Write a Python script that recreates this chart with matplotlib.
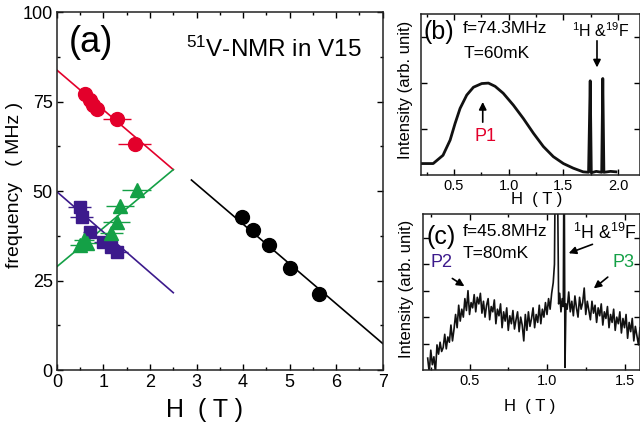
import numpy as np
import matplotlib
matplotlib.use("Agg")
import matplotlib.pyplot as plt
from matplotlib.ticker import MultipleLocator

plt.rcParams['font.family'] = ['Liberation Sans', 'DejaVu Sans']
plt.rcParams['mathtext.fontset'] = 'custom'
plt.rcParams['mathtext.rm'] = 'Liberation Sans'
plt.rcParams['mathtext.it'] = 'Liberation Sans:italic'

RED = '#e3002b'
GREEN = '#14a046'
PURPLE = '#3c1a8c'

# ---- (a) resonance frequency vs field ----
red_H = [0.60, 0.70, 0.78, 0.85, 1.29, 1.67]
red_f = [77.0, 75.5, 74.0, 73.0, 70.2, 63.3]
red_err = [0.15, 0.15, 0.15, 0.15, 0.30, 0.36]

green_H = [0.50, 0.58, 0.65, 1.17, 1.28, 1.35, 1.71]
green_f = [35.0, 36.3, 35.5, 38.2, 41.4, 45.9, 50.3]
green_err = [0.22, 0.22, 0.22, 0.25, 0.28, 0.30, 0.32]

purple_H = [0.49, 0.53, 0.71, 0.99, 1.17, 1.28]
purple_f = [45.6, 42.8, 38.6, 35.8, 34.4, 33.0]
purple_err = [0.25, 0.25, 0.15, 0.2, 0.25, 0.25]

black_H = [3.98, 4.21, 4.56, 5.00, 5.63]
black_f = [42.8, 39.1, 34.9, 28.4, 21.2]
black_err = [0.12, 0.12, 0.12, 0.12, 0.12]

# fitted lines (H start, H end), (f start, f end)
red_fit = ([0.0, 2.5], [83.8, 56.0])
green_fit = ([0.0, 2.5], [28.9, 56.0])
purple_fit = ([0.0, 2.5], [49.8, 21.6])
black_fit = ([2.89, 7.0], [53.1, 7.4])

# ---- (b) spectrum at 74.3 MHz ----
b_H = [0.20, 0.31, 0.40, 0.465, 0.51, 0.556, 0.617, 0.678, 0.754, 0.815,
       0.876, 0.95, 1.043, 1.134, 1.226, 1.317, 1.408, 1.50, 1.59, 1.68,
       1.73, 1.745, 1.755, 1.80, 1.85, 1.86, 1.87, 1.93, 1.98]
b_I = [0.25, 0.25, 0.43, 0.76, 1.12, 1.45, 1.74, 1.91, 1.99, 2.00,
       1.93, 1.78, 1.52, 1.23, 0.91, 0.62, 0.40, 0.25, 0.15, 0.07,
       0.06, 2.05, 0.05, 0.08, 0.06, 2.10, 0.06, 0.08, 0.07]

# ---- (c) spectrum at 45.8 MHz, sampled every 10 mT away from the 1H/19F lines ----
c_low_I = [0.45, -0.1, 0.75, 0.2, 0.5, -0.1, 0.95, 0.6, 1.05, 0.7,
           0.85, 1.35, 0.8, 1.25, 1.05, 1.7, 1.1, 1.55, 2.1, 1.6,
           2.45, 1.85, 2.3, 2.0, 2.7, 2.25, 3.0, 2.1, 2.55, 2.35,
           2.85, 2.2, 2.75, 2.5, 2.9, 2.15, 2.6, 2.0, 2.45, 2.7,
           1.9, 2.4, 2.2, 2.65, 1.75, 2.3, 2.05, 2.5, 1.6, 2.2,
           1.85, 2.35, 1.5, 2.05, 1.75, 2.25, 1.55, 1.9, 2.2, 1.45,
           2.0, 1.7, 1.1, 2.1, 1.5, 2.2, 1.65, 1.95, 2.35, 1.6,
           2.1, 1.8, 2.45, 1.75, 2.3, 2.0, 2.55, 2.1, 2.7, 2.3,
           2.9, 3.3]
c_low_H = 0.23 + 0.01 * np.arange(len(c_low_I))

c_mid_H = [1.048, 1.055, 1.065, 1.075, 1.082, 1.090, 1.098, 1.105, 1.110, 1.116, 1.122]
c_mid_I = [4.0, 9.0, 9.0, 2.5, 2.9, 2.2, 2.7, 2.4, 9.0, 0.1, 2.5]

c_high_I = [2.3, 2.95, 2.2, 2.6, 2.05, 2.8, 2.35, 2.0, 2.75, 2.3,
            2.55, 3.1, 2.1, 2.6, 2.25, 1.9, 2.6, 2.15, 2.45, 1.8,
            2.35, 2.05, 2.5, 1.7, 2.2, 1.95, 2.4, 1.6, 2.1, 1.8,
            2.3, 1.5, 2.0, 1.75, 2.2, 1.4, 1.95, 1.6, 2.1, 1.2,
            1.8, 1.45, 1.95, 1.1, 1.65, 1.3, 0.95, 1.6]
c_high_H = 1.13 + 0.01 * np.arange(len(c_high_I))

c_H = np.concatenate([c_low_H, c_mid_H, c_high_H])
c_I = np.concatenate([c_low_I, c_mid_I, c_high_I])


def style_ticks(ax, size):
    ax.tick_params(which='both', direction='in', top=True, right=True,
                   width=1.0, labelsize=size, pad=3)
    ax.tick_params(which='major', length=4)
    ax.tick_params(which='minor', length=2.2)
    for s in ax.spines.values():
        s.set_linewidth(1.1)
        s.set_color('#222222')


fig = plt.figure(figsize=(6.4, 4.28), dpi=100)
ax_a = fig.add_axes([0.089, 0.1355, 0.509, 0.836])
ax_b = fig.add_axes([0.658, 0.591, 0.342, 0.376])
ax_c = fig.add_axes([0.661, 0.1355, 0.339, 0.3645])

# panel (a)
for (hh, ff), col in [(red_fit, RED), (green_fit, GREEN),
                      (purple_fit, PURPLE), (black_fit, 'k')]:
    ax_a.plot(hh, ff, color=col, lw=1.2)
ax_a.errorbar(purple_H, purple_f, xerr=purple_err, fmt='s', color=PURPLE,
              ms=9, elinewidth=1.0, capsize=0)
ax_a.errorbar(green_H, green_f, xerr=green_err, fmt='^', color=GREEN,
              ms=10.5, elinewidth=1.0, capsize=0)
ax_a.errorbar(red_H, red_f, xerr=red_err, fmt='o', color=RED,
              ms=10, elinewidth=1.0, capsize=0)
ax_a.errorbar(black_H, black_f, xerr=black_err, fmt='o', color='k',
              ms=10, elinewidth=1.0, capsize=0)
ax_a.set_xlim(0, 7)
ax_a.set_ylim(0, 100)
ax_a.xaxis.set_major_locator(MultipleLocator(1))
ax_a.xaxis.set_minor_locator(MultipleLocator(0.5))
ax_a.yaxis.set_major_locator(MultipleLocator(25))
ax_a.yaxis.set_minor_locator(MultipleLocator(12.5))
style_ticks(ax_a, 13)
ax_a.set_xlabel('H  ( T )', fontsize=18)
ax_a.set_ylabel('frequency   ( MHz )', fontsize=14)
ax_a.xaxis.set_label_coords(0.454, -0.112)
ax_a.xaxis.label.set_va('center')
ax_a.yaxis.set_label_coords(-0.129, 0.517)
ax_a.yaxis.label.set_va('center')
ax_a.text(0.25, 91.5, '(a)', fontsize=26, va='center', ha='left')
ax_a.text(6.55, 89.5, r'$^{51}$V-NMR in V15', fontsize=17.5, va='center', ha='right')

# panel (b)
ax_b.plot(b_H, b_I, color='#111111', lw=2.0, solid_joinstyle='round')
ax_b.set_xlim(0.2, 2.2)
ax_b.set_ylim(0, 3.5)
ax_b.xaxis.set_major_locator(MultipleLocator(0.5))
ax_b.xaxis.set_minor_locator(MultipleLocator(0.25))
ax_b.set_yticks([1, 2, 3])
ax_b.set_yticklabels([])
style_ticks(ax_b, 10.5)
ax_b.set_xlabel('H  ( T )', fontsize=12)
ax_b.set_ylabel('Intensity (arb. unit)', fontsize=12)
ax_b.xaxis.set_label_coords(0.53, -0.15)
ax_b.xaxis.label.set_va('center')
ax_b.yaxis.set_label_coords(-0.073, 0.528)
ax_b.yaxis.label.set_va('center')
ax_b.text(0.012, 0.89, '(b)', fontsize=18, transform=ax_b.transAxes, va='center')
ax_b.text(0.192, 0.913, 'f=74.3MHz', fontsize=12.5, transform=ax_b.transAxes, va='center')
ax_b.text(0.192, 0.758, 'T=60mK', fontsize=12.5, transform=ax_b.transAxes, va='center')
ax_b.text(0.822, 0.90, r'$^{1}$H &$^{19}$F', fontsize=11.5, transform=ax_b.transAxes,
          va='center', ha='center')
ax_b.annotate('', xy=(1.807, 2.28), xytext=(1.807, 2.98),
              arrowprops=dict(arrowstyle='-|>', color='k', lw=1.2, mutation_scale=11))
ax_b.text(0.785, 0.83, 'P1', color=RED, fontsize=13, ha='center', va='center')
ax_b.annotate('', xy=(0.763, 1.65), xytext=(0.763, 1.09),
              arrowprops=dict(arrowstyle='-|>', color='k', lw=1.2, mutation_scale=11))

# panel (c)
ax_c.plot(c_H, c_I, color='#111111', lw=1.2)
ax_c.set_xlim(0.2, 1.6)
ax_c.set_ylim(0, 5.9)
ax_c.xaxis.set_major_locator(MultipleLocator(0.5))
ax_c.xaxis.set_minor_locator(MultipleLocator(0.25))
ax_c.set_yticks([1, 2, 3, 4, 5])
ax_c.set_yticklabels([])
style_ticks(ax_c, 10.5)
ax_c.set_xlabel('H  ( T )', fontsize=12)
ax_c.set_ylabel('Intensity (arb. unit)', fontsize=12)
ax_c.xaxis.set_label_coords(0.49, -0.237)
ax_c.xaxis.label.set_va('center')
ax_c.yaxis.set_label_coords(-0.078, 0.52)
ax_c.yaxis.label.set_va('center')
ax_c.text(0.018, 0.855, '(c)', fontsize=18, transform=ax_c.transAxes, va='center')
ax_c.text(0.184, 0.885, 'f=45.8MHz', fontsize=12.5, transform=ax_c.transAxes, va='center')
ax_c.text(0.184, 0.75, 'T=80mK', fontsize=12.5, transform=ax_c.transAxes, va='center')
ax_c.text(0.69, 0.878, r'$^{1}$H &$^{19}$F', fontsize=12.8, transform=ax_c.transAxes,
          va='center', ha='left')
ax_c.annotate('', xy=(1.123, 4.38), xytext=(1.31, 4.79),
              arrowprops=dict(arrowstyle='-|>', color='k', lw=1.2, mutation_scale=11))
ax_c.text(0.083, 0.686, 'P2', color=PURPLE, fontsize=13, transform=ax_c.transAxes,
          ha='center', va='center')
ax_c.annotate('', xy=(0.482, 3.11), xytext=(0.374, 3.52),
              arrowprops=dict(arrowstyle='-|>', color='k', lw=1.2, mutation_scale=11))
ax_c.text(0.926, 0.686, 'P3', color=GREEN, fontsize=13, transform=ax_c.transAxes,
          ha='center', va='center')
ax_c.annotate('', xy=(1.288, 3.02), xytext=(1.406, 3.58),
              arrowprops=dict(arrowstyle='-|>', color='k', lw=1.2, mutation_scale=11))

fig.savefig('out.png', dpi=100)
